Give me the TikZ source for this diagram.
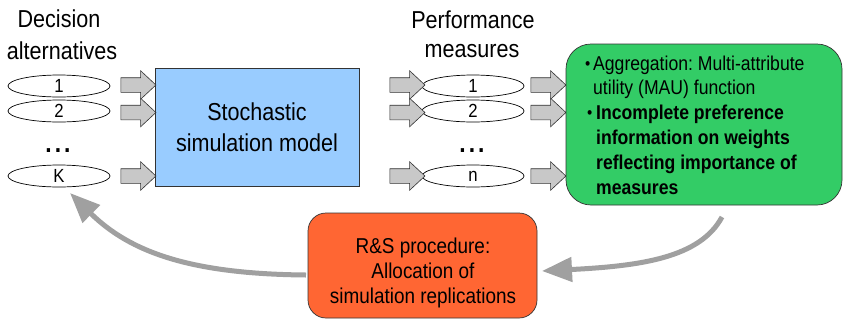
\documentclass[tikz,border=0pt]{standalone}
\usepackage{fontspec}
\setmainfont{Liberation Sans}[FakeStretch=0.88]
\usetikzlibrary{shapes.geometric,shapes.arrows,arrows.meta}
\definecolor{simblue}{HTML}{99CCFF}
\definecolor{aggreen}{HTML}{33CC66}
\definecolor{rsred}{HTML}{FF6633}
\definecolor{blockgray}{HTML}{C8C8C8}
\definecolor{loopgray}{HTML}{A0A0A0}
\newcommand\setfs[2]{\fontsize{#1}{#2}\selectfont}
\newcommand\threedots{.\kern3pt.\kern3pt.}
\frenchspacing
\begin{document}
\begin{tikzpicture}[x=1pt,y=-1pt,
  alt/.style={ellipse, draw=black, line width=0.7pt, fill=white,
    minimum width=102pt, minimum height=22pt, inner sep=0pt, font=\setfs{19}{19}},
  blockarr/.style={single arrow, draw=black!80, fill=blockgray, line width=0.6pt,
    minimum height=35pt, single arrow head extend=7pt,
    single arrow tip angle=86, inner sep=0pt},
  heading/.style={anchor=base, inner sep=0pt, font=\setfs{24.5}{24.5}},
  dotsnode/.style={anchor=base, inner sep=0pt, font=\setfs{26}{26}\bfseries},
  aggline/.style={anchor=base west, inner sep=0pt, font=\setfs{20}{25}},
  aggbullet/.style={anchor=base west, inner sep=0pt, font=\setfs{17}{17}},
  loop/.style={draw=loopgray, line width=5pt, -{Triangle[length=30pt,width=24pt]}}
]
\path[use as bounding box] (0,0) rectangle (847,325);

% column headings
\node[heading] (hd1) at (59,27) {Decision};
\node[heading] (hd2) at (62,59) {alternatives};
\node[heading] (hp1) at (473,28) {Performance};
\node[heading] (hp2) at (472,57) {measures};

% decision alternatives
\node[alt] (d1) at (59,86) {1};
\node[alt] (d2) at (59,111) {2};
\node[dotsnode] (ddots) at (58,152) {\threedots};
\node[alt] (dk) at (59,176) {K};

% simulation model
\node[draw=black!80, line width=0.7pt, fill=simblue, minimum width=204pt,
  minimum height=118pt, align=center, font=\setfs{24.5}{31}] (sim) at (257,127)
  {Stochastic\\simulation model};

% performance measures
\node[alt] (p1) at (473,86) {1};
\node[alt] (p2) at (473,111) {2};
\node[dotsnode] (pdots) at (472,152) {\threedots};
\node[alt] (pn) at (473,176) {n};

% block arrows between the stages (the strut sets the shaft thickness)
\node[blockarr] (a1) at (134.5,85) {\rule{0pt}{14pt}};
\node[blockarr] (a2) at (134.5,112.5) {\rule{0pt}{14pt}};
\node[blockarr] (a3) at (134.5,176) {\rule{0pt}{14pt}};
\node[blockarr] (b1) at (403.5,85) {\rule{0pt}{14pt}};
\node[blockarr] (b2) at (403.5,112.5) {\rule{0pt}{14pt}};
\node[blockarr] (b3) at (403.5,176) {\rule{0pt}{14pt}};
\node[blockarr] (c1) at (544.5,85) {\rule{0pt}{14pt}};
\node[blockarr] (c2) at (544.5,112.5) {\rule{0pt}{14pt}};
\node[blockarr] (c3) at (544.5,176) {\rule{0pt}{14pt}};

% aggregation box
\node[draw=black!80, line width=0.7pt, fill=aggreen, rounded corners=25pt,
  minimum width=276pt, minimum height=161pt] (agg) at (704,124.5) {};
\node[aggbullet] (gb1) at (585,69) {•};
\node[aggline] (g1) at (593,70) {Aggregation: Multi-attribute};
\node[aggline] (g2) at (593,94.5) {utility (MAU) function};
\node[aggbullet] (gb2) at (587,118.5) {•};
\node[aggline, font=\setfs{20}{25}\bfseries] (g3) at (596,119.5) {Incomplete preference};
\node[aggline, font=\setfs{20}{25}\bfseries] (g4) at (596,144.5) {information on weights};
\node[aggline, font=\setfs{20}{25}\bfseries] (g5) at (596,169.5) {reflecting importance of};
\node[aggline, font=\setfs{20}{25}\bfseries] (g6) at (596,194) {measures};

% ranking and selection box
\node[draw=black!80, line width=0.7pt, fill=rsred, rounded corners=18pt,
  minimum width=229pt, minimum height=105pt] (rs) at (422.5,265.5) {};
\node[anchor=base, inner sep=0pt, align=center, font=\setfs{21.5}{25}] (rstext)
  at (423,303) {R\&S procedure:\\Allocation of\\simulation replications};

% feedback loop
\coordinate (aggout) at (722,217);
\coordinate (rsin) at (542,271);
\coordinate (rsout) at (306,275);
\coordinate (dkin) at (70,193);
\draw[loop] (aggout) .. controls (700,258) and (640,266) .. (rsin);
\draw[loop] (rsout) .. controls (190,274) and (130,252) .. (dkin);
\end{tikzpicture}
\end{document}
